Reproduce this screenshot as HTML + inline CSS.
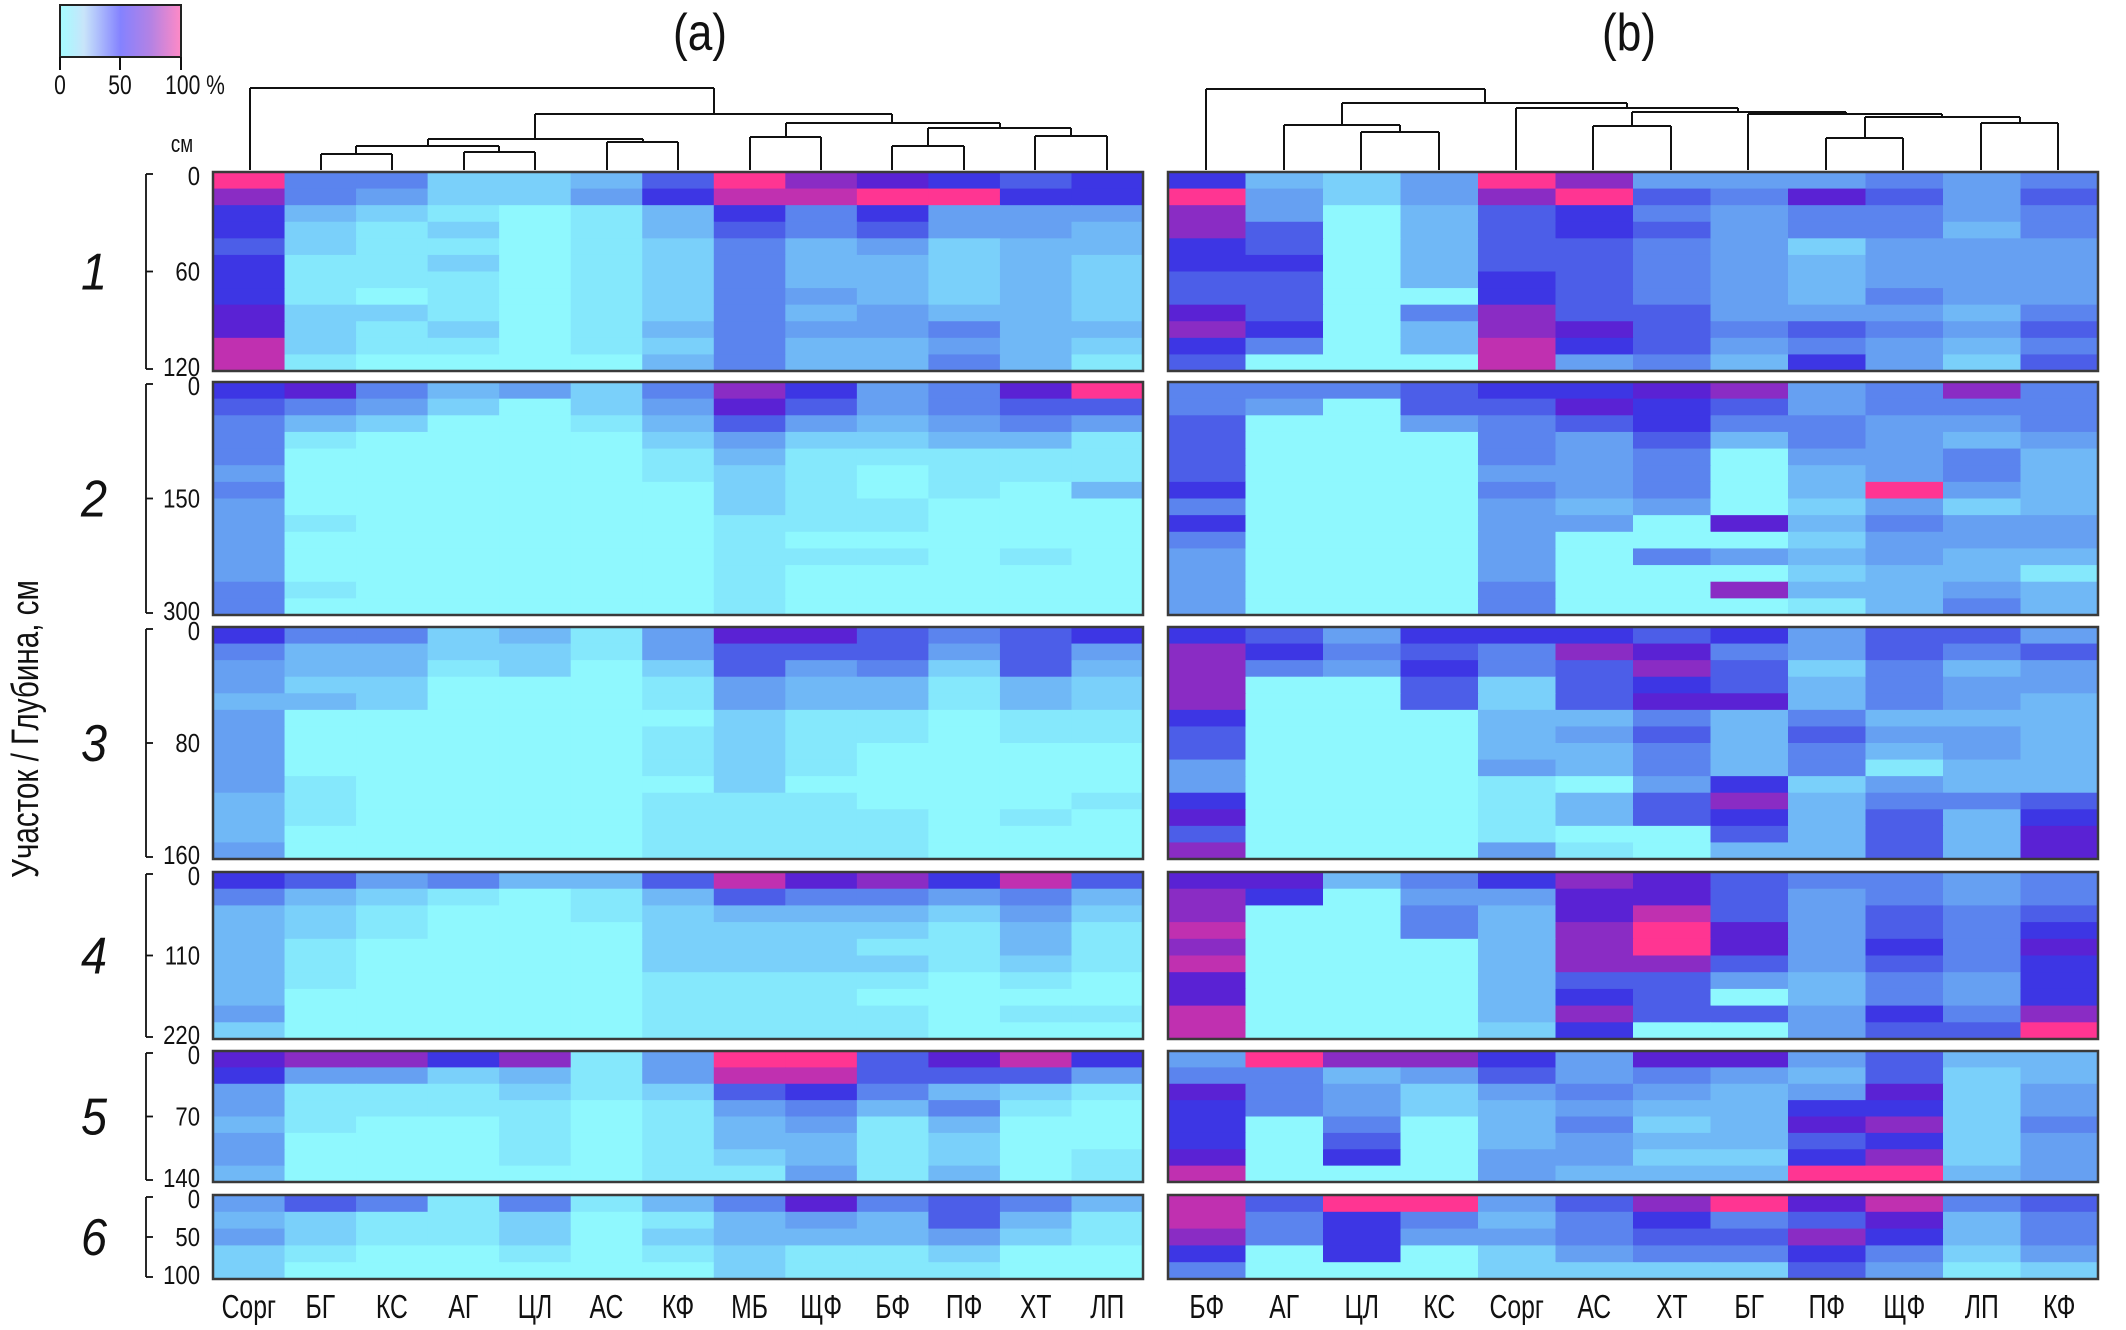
<!DOCTYPE html>
<html><head><meta charset="utf-8">
<style>
html,body{margin:0;padding:0;background:#fff;}
svg{display:block;}
text{font-family:"Liberation Sans",sans-serif;fill:#111;}
</style></head>
<body>
<svg id="s" xmlns="http://www.w3.org/2000/svg" width="2126" height="1330" viewBox="0 0 2126 1330">
<defs>
<linearGradient id="cb" x1="0" x2="1" y1="0" y2="0">
<stop offset="0" stop-color="#a4fcff"/>
<stop offset="0.2" stop-color="#c8e4fa"/>
<stop offset="0.5" stop-color="#8482ff"/>
<stop offset="0.75" stop-color="#b482e4"/>
<stop offset="1" stop-color="#ff8ac6"/>
</linearGradient>
</defs>
<rect x="0" y="0" width="2126" height="1330" fill="#fff"/>
<g id="g"></g>
</svg>
<script>
var cmap={'0':'#8ff8fe','1':'#85e8fc','2':'#7ad0fa','3':'#70b8f6','4':'#66a0f2','5':'#5b84ee','6':'#4c5ee8','7':'#3d36e4','8':'#5a22d4','9':'#8a2cc4','a':'#c030b0','b':'#ff3592'};
var A=[
["b552236b98767","9542247aabb77","7321013757444","7212013656443","6211012534233","7112012533232","7111012533232","7101012543232","8221012534332","8212013544533","a211012533432","a100003533531"],
["785342597458b","6542024864566","5320013643454","5100002422331","5000001311111","4000001210111","5000000210103","4000000211000","4100000111000","4000000100000","4000000111010","4000000100000","5100000100000","5000000100000"],
["7552314886567","5332214666464","4331202645263","4220001433132","3320001433132","4000000211011","4000001211011","4000001210000","4000001210000","4100000200000","3100001110001","3100001111010","3000001111000","4000001111000"],
["7645336a897a6","5321013655453","3210012333242","3210002222131","3100002221131","3100002222121","3100001111010","3000001110000","4000001111011","2000001111000"],
["8997914bb68a7","7442314aa6664","4111212675321","4111101453510","3100101341300","4000101331200","4000101231201","3000001141301"],
["4651513585653","3211201343631","4211202333421","2100101211200","2000000211100"]
];
var B=[
["7324b9444545","b4249b658646","940367545545","960367645535","760366542444","770366543444","660376543444","660076543544","860596644435","970398656546","7503a7645435","6000a4537426"],
["555677894595","540668764555","600456755445","600054635434","600054504453","600044503453","700054503b43","500043402423","700044083544","500040002444","400040543433","400040002331","400050093343","400050001353"],
["764777674664","975659854656","954756962534","900626763544","900626883543","700033535333","600034636443","600033535343","400043535133","400010472433","700013693556","800013673637","600010063638","900041033638"],
["883579865545","970448864545","900538a64656","a00539b84657","900039b84758","a00039964657","800036643547","800037603547","a00039664759","a0002700466b"],
["4b9974884633","553464543623","854245434824","754234337724","705035238925","706034336724","807044227924","a0004333bb34"],
["a6bb469b8a56","a57535756835","957445669735","707024557524","500022226412"]
];
var tops=[172,382,627,872,1051,1195],bots=[371,615,859,1039,1182,1279];
var h='';
function draw(data,x0,w){
 for(var b=0;b<6;b++){
  var rows=data[b],n=rows.length,t=tops[b],rh=(bots[b]-t)/n;
  var nc=rows[0].length;
  for(var r=0;r<n;r++){
   var s=rows[r];
   for(var c=0;c<nc;c++){
    var col=cmap[s[c]]||'#8ff8fe';
    h+='<rect x="'+(x0+c*w).toFixed(2)+'" y="'+(t+r*rh).toFixed(2)+'" width="'+(w+0.6).toFixed(2)+'" height="'+(rh+0.6).toFixed(2)+'" fill="'+col+'"/>';
   }
  }
  h+='<rect x="'+x0+'" y="'+t+'" width="'+(nc*w)+'" height="'+(bots[b]-t)+'" fill="none" stroke="#3a3a3a" stroke-width="2.5"/>';
 }
}
draw(A,213,71.54);
draw(B,1168,77.5);
function ln(x1,y1,x2,y2,sw){h+='<line x1="'+x1+'" y1="'+y1+'" x2="'+x2+'" y2="'+y2+'" stroke="#111" stroke-width="'+(sw||2)+'"/>';}
function U(xl,xr,y,yl,yr){ln(xl,y,xr,y);ln(xl,y,xl,yl);ln(xr,y,xr,yr);}
var L=170;
U(250,714,88,L,114);
U(535,892,114,139,123);
U(428,643,139,146,142);
U(356,499,146,154,152);
U(321,392,154,L,L);
U(464,535,152,L,L);
U(607,678,142,L,L);
U(786,1000,123,137,128);
U(750,821,137,L,L);
U(928,1071,128,146,136);
U(892,964,146,L,L);
U(1035,1107,136,L,L);
U(1206,1485,89,L,103);
U(1342,1627,103,125,108);
U(1284,1400,125,L,132);
U(1361,1439,132,L,L);
U(1516,1738,108,L,112);
U(1632,1846,112,126,114);
U(1593,1671,126,L,L);
U(1748,1942,114,L,117);
U(1865,2020,117,138,123);
U(1826,1903,138,L,L);
U(1981,2058,123,L,L);
h+='<rect x="60" y="5" width="121" height="52" fill="url(#cb)" stroke="#222" stroke-width="2"/>';
ln(60,57,60,70);ln(120,57,120,70);ln(181,57,181,70);
function tx(x,y,s,size,anchor,sx,extra){h+='<text transform="translate('+x+','+y+') scale('+(sx||0.78)+',1)" font-size="'+size+'" text-anchor="'+(anchor||'middle')+'" '+(extra||'')+'>'+s+'</text>';}
tx(60,94,'0',27);tx(120,94,'50',27);tx(195,94,'100 %',27);
tx(700,50,'(a)',52,'middle',0.85);
tx(1629,50,'(b)',52,'middle',0.85);
tx(182,152,'см',24);
var labs=[['0','60','120'],['0','150','300'],['0','80','160'],['0','110','220'],['0','70','140'],['0','50','100']];
for(var b=0;b<6;b++){
 var t=tops[b],bo=bots[b],m=(t+bo)/2;
 ln(146,t+2,146,bo-2,1.8);ln(146,t+2,153,t+2,1.8);ln(146,bo-2,153,bo-2,1.8);ln(146,m,153,m,1.8);
 tx(200,t+13,labs[b][0],26,'end',0.85);
 tx(200,m+9,labs[b][1],26,'end',0.85);
 tx(200,bo+5,labs[b][2],26,'end',0.85);
 tx(94,m+18,String(b+1),52,'middle',0.9,'font-style="italic"');
}
h+='<text transform="translate(38,729) rotate(-90) scale(0.78,1)" font-size="38" text-anchor="middle">Участок / Глубина, см</text>';
var la=['Сорг','БГ','КС','АГ','ЦЛ','АС','КФ','МБ','ЩФ','БФ','ПФ','ХТ','ЛП'];
for(var i=0;i<13;i++)tx(213+71.54*(i+0.5),1318,la[i],33,'middle',0.75);
var lb=['БФ','АГ','ЦЛ','КС','Сорг','АС','ХТ','БГ','ПФ','ЩФ','ЛП','КФ'];
for(var i=0;i<12;i++)tx(1168+77.5*(i+0.5),1318,lb[i],33,'middle',0.75);
document.getElementById('g').innerHTML=h;
</script>
</body></html>
